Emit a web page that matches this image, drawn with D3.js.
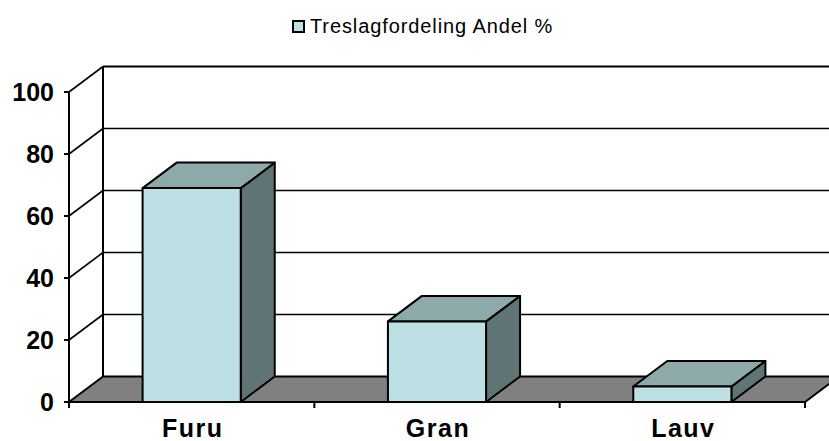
<!DOCTYPE html>
<html><head><meta charset="utf-8">
<script src="https://cdn.jsdelivr.net/npm/d3@7"></script>
<style>body{margin:0;background:#fff}svg{display:block}</style>
</head><body>
<script>
const categories = ["Furu", "Gran", "Lauv"];
const values = [69, 26, 5];
const yTicks = [0, 20, 40, 60, 80, 100];
const seriesName = "Treslagfordeling Andel %";

const W = 829, H = 441;
const svg = d3.select("body").append("svg").attr("width", W).attr("height", H);
const x = d3.scaleBand().domain(categories).range([69, 805]).padding(0);
const y = d3.scaleLinear().domain([0, 100]).range([402, 92]);
const dx = 34, dy = 25.5;
const x0 = 69, x1 = 805;
const FONT = "'Liberation Sans', Arial, sans-serif";

const colFront = "#bce0e3", colTop = "#8ea9aa", colSide = "#5f7474", colFloor = "#808080";

// back wall gridlines
const g = svg.append("g");
yTicks.filter(t => t > 0).forEach(t => {
  g.append("line").attr("x1", x0 + dx).attr("x2", W + 5)
    .attr("y1", y(t) - dy).attr("y2", y(t) - dy)
    .attr("stroke", "#000").attr("stroke-width", t === 100 ? 2 : 1.6);
  g.append("line").attr("x1", x0).attr("x2", x0 + dx)
    .attr("y1", y(t)).attr("y2", y(t) - dy)
    .attr("stroke", "#000").attr("stroke-width", 1.6);
});
g.append("line").attr("x1", x0 + dx).attr("x2", x0 + dx)
  .attr("y1", y(0) - dy).attr("y2", y(100) - dy)
  .attr("stroke", "#000").attr("stroke-width", 2);

// floor
g.append("polygon")
  .attr("points", [[x0, y(0)], [x1, y(0)], [x1 + dx, y(0) - dy], [x0 + dx, y(0) - dy]].map(p => p.join(",")).join(" "))
  .attr("fill", colFloor).attr("stroke", "#000").attr("stroke-width", 2).attr("stroke-linejoin", "round");

// bars
const bw = x.bandwidth() * 0.4;
categories.forEach((c, i) => {
  const v = values[i];
  const cx = x(c) + x.bandwidth() / 2;
  const L = cx - bw / 2, R = cx + bw / 2, T = y(v), B = y(0);
  const bg = svg.append("g").attr("stroke", "#000").attr("stroke-width", 2).attr("stroke-linejoin", "round");
  bg.append("polygon").attr("points", [[R, B], [R + dx, B - dy], [R + dx, T - dy], [R, T]].map(p => p.join(",")).join(" "))
    .attr("fill", colSide);
  bg.append("polygon").attr("points", [[L, T], [R, T], [R + dx, T - dy], [L + dx, T - dy]].map(p => p.join(",")).join(" "))
    .attr("fill", colTop);
  bg.append("rect").attr("x", L).attr("y", T).attr("width", bw).attr("height", B - T)
    .attr("fill", colFront);
});

// front y axis
svg.append("line").attr("x1", x0).attr("x2", x0).attr("y1", y(0) + 1).attr("y2", y(100))
  .attr("stroke", "#000").attr("stroke-width", 2);
yTicks.forEach(t => {
  svg.append("line").attr("x1", x0 - 5).attr("x2", x0).attr("y1", y(t)).attr("y2", y(t))
    .attr("stroke", "#000").attr("stroke-width", 2);
  svg.append("text").attr("x", 54).attr("y", y(t) + 9).attr("text-anchor", "end")
    .attr("font-family", FONT).attr("font-weight", "bold")
    .attr("font-size", 25).text(t);
});
const tickXs = [x0].concat(categories.map(c => x(c) + x.bandwidth()));
tickXs.forEach(tx => {
  svg.append("line").attr("x1", tx).attr("x2", tx).attr("y1", y(0)).attr("y2", y(0) + 6)
    .attr("stroke", "#000").attr("stroke-width", 2);
});
categories.forEach(c => {
  svg.append("text").attr("x", x(c) + x.bandwidth() / 2 + 1).attr("y", 437).attr("text-anchor", "middle")
    .attr("font-family", FONT).attr("font-weight", "bold")
    .attr("font-size", 25).attr("letter-spacing", 1.5).text(c);
});

// legend
svg.append("rect").attr("x", 293).attr("y", 21).attr("width", 11).attr("height", 11)
  .attr("fill", colFront).attr("stroke", "#000").attr("stroke-width", 2);
svg.append("text").attr("x", 310).attr("y", 33)
  .attr("font-family", FONT).attr("font-size", 20)
  .attr("letter-spacing", 0.9).text(seriesName);
</script>
</body></html>
